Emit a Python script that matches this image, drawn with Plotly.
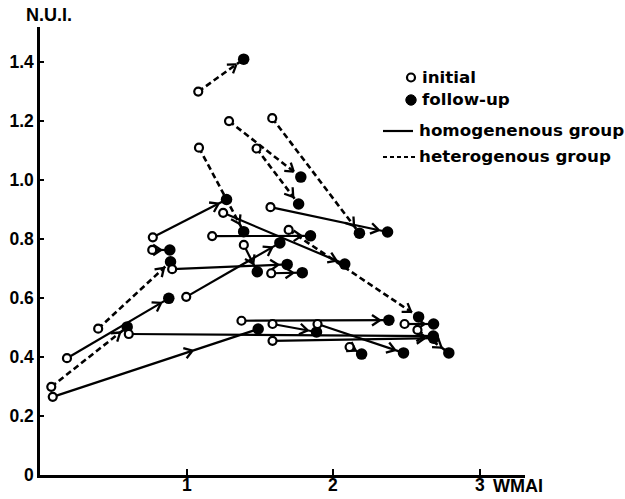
import math
import plotly.graph_objects as go

# ---------------- data (WMAI, N.U.I.) ----------------
# heterogenous group (dashed): initial -> follow-up
het_init_x = [1.08, 1.29, 1.585, 1.085, 1.478, 1.697, 0.397, 0.077, 2.576]
het_init_y = [1.30, 1.20, 1.21, 1.11, 1.107, 0.831, 0.496, 0.299, 0.492]
het_fol_x = [1.39, 1.78, 2.18, 1.39, 1.765, 2.584, 0.891, 0.595, 2.79]
het_fol_y = [1.41, 1.01, 0.82, 0.825, 0.919, 0.536, 0.723, 0.502, 0.414]

# homogenenous group (solid): initial -> follow-up
hom_init_x = [0.77, 1.25, 1.175, 0.998, 1.391, 0.766, 0.902, 1.578, 0.184,
              0.087, 0.606, 1.375, 1.573, 1.587, 1.894, 2.113, 1.587, 2.488]
hom_init_y = [0.806, 0.889, 0.81, 0.604, 0.78, 0.763, 0.698, 0.684, 0.396,
              0.265, 0.478, 0.523, 0.908, 0.512, 0.512, 0.434, 0.455, 0.512]
hom_fol_x = [1.273, 2.08, 1.846, 1.637, 1.483, 0.886, 1.687, 1.79, 0.879,
             1.489, 2.684, 2.381, 2.372, 1.887, 2.481, 2.195, 2.686, 2.686]
hom_fol_y = [0.934, 0.715, 0.811, 0.787, 0.689, 0.763, 0.714, 0.686, 0.599,
             0.495, 0.471, 0.525, 0.824, 0.485, 0.414, 0.41, 0.464, 0.512]
hom_mid_arrow = [9]   # pair whose arrowhead sits along the line

y_tick_vals = [0, 0.2, 0.4, 0.6, 0.8, 1.0, 1.2, 1.4]
y_tick_text = ["0", "0.2", "0.4", "0.6", "0.8", "1.0", "1.2", "1.4"]
x_tick_vals = [1, 2, 3]
x_tick_text = ["1", "2", "3"]

# ---------------- layout geometry ----------------
W, H = 625, 499
ML, MR, MT, MB = 40, 100, 27, 24
XR = [0, 3.31]
YR = [0, 1.519]
KX = (W - ML - MR) / (XR[1] - XR[0])   # px per x unit
KY = (H - MT - MB) / (YR[1] - YR[0])   # px per y unit

GAP = 9.0     # px between arrow tip and follow-up centre
ARM = 9.5     # arrow arm length px
ANG = math.radians(34)


def arrows(x0s, y0s, x1s, y1s, mids=()):
    ax, ay = [], []
    for i, (x0, y0, x1, y1) in enumerate(zip(x0s, y0s, x1s, y1s)):
        dxp = (x1 - x0) * KX
        dyp = (y1 - y0) * KY
        L = math.hypot(dxp, dyp)
        ux, uy = dxp / L, dyp / L
        if i in mids:
            tpx = 0.68 * L
        else:
            tpx = max(L - GAP, L * 0.5)
        tx = x0 + ux * tpx / KX
        ty = y0 + uy * tpx / KY
        for s in (1, -1):
            c, sn = math.cos(s * ANG), math.sin(s * ANG)
            bx, by = -ux, -uy
            rx = bx * c - by * sn
            ry = bx * sn + by * c
            ax.append(tx + rx * ARM / KX)
            ay.append(ty + ry * ARM / KY)
            ax.append(tx)
            ay.append(ty)
            ax.append(None)
            ay.append(None)
    return ax, ay


def segs(x0s, y0s, x1s, y1s):
    xs, ys = [], []
    for x0, y0, x1, y1 in zip(x0s, y0s, x1s, y1s):
        xs += [x0, x1, None]
        ys += [y0, y1, None]
    return xs, ys


fig = go.Figure()

hx, hy = segs(hom_init_x, hom_init_y, hom_fol_x, hom_fol_y)
fig.add_trace(go.Scatter(x=hx, y=hy, mode="lines",
                         line=dict(color="black", width=2.2), hoverinfo="skip"))
tx, ty = segs(het_init_x, het_init_y, het_fol_x, het_fol_y)
fig.add_trace(go.Scatter(x=tx, y=ty, mode="lines",
                         line=dict(color="black", width=2.6, dash="6px,3.5px"),
                         hoverinfo="skip"))

a1x, a1y = arrows(hom_init_x, hom_init_y, hom_fol_x, hom_fol_y, hom_mid_arrow)
a2x, a2y = arrows(het_init_x, het_init_y, het_fol_x, het_fol_y)
fig.add_trace(go.Scatter(x=a1x + a2x, y=a1y + a2y, mode="lines",
                         line=dict(color="black", width=2.3), hoverinfo="skip"))

fig.add_trace(go.Scatter(x=hom_fol_x + het_fol_x, y=hom_fol_y + het_fol_y,
                         mode="markers",
                         marker=dict(symbol="circle", size=11.5, color="black"),
                         hoverinfo="skip"))
fig.add_trace(go.Scatter(x=hom_init_x + het_init_x, y=hom_init_y + het_init_y,
                         mode="markers",
                         marker=dict(symbol="circle", size=8, color="white",
                                     line=dict(color="black", width=2.2)),
                         hoverinfo="skip"))


def px2paper(px, py):
    return (px - ML) / (W - ML - MR), (H - MB - py) / (H - MT - MB)


shapes = []
# legend symbols
cx, cy = px2paper(411, 77.5)
r = 4.0
shapes.append(dict(type="circle", xref="paper", yref="paper",
                   x0=cx - r / (W - ML - MR), x1=cx + r / (W - ML - MR),
                   y0=cy - r / (H - MT - MB), y1=cy + r / (H - MT - MB),
                   line=dict(color="black", width=2.2), fillcolor="white"))
cx, cy = px2paper(411, 100)
r = 5.2
shapes.append(dict(type="circle", xref="paper", yref="paper",
                   x0=cx - r / (W - ML - MR), x1=cx + r / (W - ML - MR),
                   y0=cy - r / (H - MT - MB), y1=cy + r / (H - MT - MB),
                   line=dict(color="black", width=1), fillcolor="black"))
x0p, y0p = px2paper(383, 131)
x1p, _ = px2paper(413, 131)
shapes.append(dict(type="line", xref="paper", yref="paper", x0=x0p, x1=x1p,
                   y0=y0p, y1=y0p, line=dict(color="black", width=2.2)))
x0p, y0p = px2paper(383, 157)
x1p, _ = px2paper(415, 157)
shapes.append(dict(type="line", xref="paper", yref="paper", x0=x0p, x1=x1p,
                   y0=y0p, y1=y0p, line=dict(color="black", width=2.2, dash="4px,3px")))

LF = dict(family="DejaVu Sans", size=16.7, color="black", weight="bold")
annotations = []
for text, px, py in [("initial", 420, 77), ("follow-up", 420, 99),
                     ("homogenenous group", 417, 130),
                     ("heterogenous group", 417, 156)]:
    xp, yp = px2paper(px, py)
    annotations.append(dict(text=text, x=xp, y=yp, xref="paper", yref="paper",
                            xanchor="left", yanchor="middle", showarrow=False,
                            font=LF))
AF = dict(family="Liberation Sans", size=18, color="black", weight="bold")
xp, yp = px2paper(24, 15)
annotations.append(dict(text="N.U.I.", x=xp, y=yp, xref="paper", yref="paper",
                        xanchor="left", yanchor="middle", showarrow=False, font=AF))
xp, yp = px2paper(491, 486)
annotations.append(dict(text="WMAI", x=xp, y=yp, xref="paper", yref="paper",
                        xanchor="left", yanchor="middle", showarrow=False, font=AF))

TF = dict(family="Liberation Sans", size=17.5, color="black", weight="bold")
# x tick labels as text placed just under the axis
_, ylab = px2paper(0, 485)
for v, t in zip(x_tick_vals, x_tick_text):
    annotations.append(dict(text=t, x=v, y=ylab, xref="x", yref="paper",
                            xanchor="center", yanchor="middle", showarrow=False,
                            font=TF))

fig.update_layout(
    width=W, height=H, margin=dict(l=ML, r=MR, t=MT, b=MB),
    paper_bgcolor="white", plot_bgcolor="white", showlegend=False,
    shapes=shapes, annotations=annotations,
    xaxis=dict(range=XR, showgrid=False, zeroline=False, showline=True,
               linecolor="black", linewidth=2.5, tickvals=x_tick_vals,
               showticklabels=False, ticks="inside", ticklen=6, tickwidth=2,
               tickcolor="black", automargin=False),
    yaxis=dict(range=YR, showgrid=False, zeroline=False, showline=True,
               linecolor="black", linewidth=2.5, tickvals=y_tick_vals,
               ticktext=y_tick_text, ticks="inside", ticklen=4, tickwidth=2,
               tickcolor="black", tickfont=TF, automargin=False),
)

fig.write_html("out.html")
